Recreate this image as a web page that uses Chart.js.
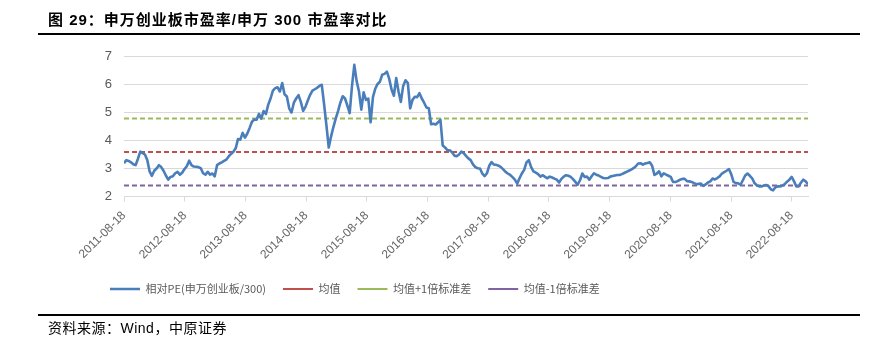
<!DOCTYPE html>
<html>
<head>
<meta charset="utf-8">
<script src="https://cdn.jsdelivr.net/npm/chart.js@4.4.1/dist/chart.umd.min.js"></script>
<style>
  html, body { margin: 0; padding: 0; background: #fff; }
  #wrap { position: relative; width: 894px; height: 342px; overflow: hidden; }
  #c { position: absolute; left: 0; top: 0; }
  .title {
    position: absolute; left: 48px; top: 11px; white-space: nowrap;
    font: bold 15px/18px "Liberation Sans", "Noto Sans CJK SC", sans-serif;
    letter-spacing: 1px; color: #000;
  }
  .rule { position: absolute; left: 38px; width: 822px; background: #000; }
  .source {
    position: absolute; left: 48px; top: 320px; white-space: nowrap;
    font: 14px/16px "Liberation Sans", "Noto Sans CJK SC", sans-serif;
    letter-spacing: 0.5px; color: #000;
  }
</style>
</head>
<body>
<div id="wrap">
  <canvas id="c" width="894" height="342"></canvas>
  <div class="title">图 29：申万创业板市盈率/申万 300 市盈率对比</div>
  <div class="rule" style="top:33px;height:2px;"></div>
  <div class="rule" style="top:313.5px;height:2.5px;"></div>
  <div class="source">资料来源：Wind，中原证券</div>
</div>
<script>
// Relative PE of the ChiNext index vs. the SW 300 index, one reading every two weeks
const startDate = '2011-08-18';
const stepDays = 14;
const values = [
  3.19, 3.30, 3.27, 3.22, 3.15, 3.12, 3.35, 3.60, 3.55, 3.50,
  3.30, 2.90, 2.74, 2.92, 3.00, 3.12, 3.05, 2.92, 2.75, 2.60,
  2.70, 2.72, 2.83, 2.88, 2.78, 2.85, 2.98, 3.08, 3.28, 3.12,
  3.07, 3.06, 3.05, 3.01, 2.83, 2.78, 2.88, 2.78, 2.82, 2.72,
  3.12, 3.18, 3.22, 3.27, 3.32, 3.43, 3.52, 3.60, 3.72, 4.05,
  4.03, 4.27, 4.10, 4.25, 4.45, 4.67, 4.75, 4.74, 4.95, 4.78,
  5.05, 4.95, 5.28, 5.50, 5.78, 5.87, 5.90, 5.75, 6.05, 5.65,
  5.57, 5.15, 5.00, 5.35, 5.50, 5.62, 5.38, 5.06, 5.20, 5.43,
  5.63, 5.78, 5.83, 5.88, 5.95, 5.99, 5.30, 4.55, 3.75, 4.14,
  4.48, 4.78, 5.05, 5.35, 5.58, 5.50, 5.25, 4.98, 5.95, 6.70,
  6.12, 5.75, 5.10, 5.72, 5.45, 5.50, 4.65, 5.55, 5.85, 6.02,
  6.10, 6.35, 6.38, 6.46, 6.20, 5.82, 5.60, 6.23, 5.75, 5.38,
  5.95, 6.15, 6.05, 5.15, 5.45, 5.56, 5.55, 5.69, 5.50, 5.35,
  5.18, 5.15, 4.58, 4.60, 4.57, 4.65, 4.74, 3.82, 3.75, 3.66,
  3.65, 3.58, 3.46, 3.44, 3.50, 3.60, 3.55, 3.45, 3.36, 3.30,
  3.15, 3.05, 3.01, 3.00, 2.82, 2.73, 2.83, 3.10, 3.23, 3.14,
  3.13, 3.10, 3.05, 2.97, 2.88, 2.82, 2.77, 2.69, 2.60, 2.46,
  2.65, 2.82, 2.95, 3.22, 3.30, 3.05, 2.90, 2.85, 2.80, 2.71,
  2.76, 2.70, 2.65, 2.71, 2.68, 2.64, 2.60, 2.50, 2.63, 2.71,
  2.76, 2.74, 2.70, 2.62, 2.52, 2.42, 2.58, 2.82, 2.70, 2.71,
  2.60, 2.72, 2.83, 2.78, 2.75, 2.70, 2.66, 2.65, 2.66, 2.71,
  2.73, 2.75, 2.77, 2.77, 2.80, 2.84, 2.88, 2.92, 2.96, 3.01,
  3.08, 3.18, 3.19, 3.14, 3.18, 3.20, 3.22, 3.10, 2.77, 2.82,
  2.90, 2.72, 2.83, 2.78, 2.74, 2.70, 2.52, 2.52, 2.55, 2.60,
  2.63, 2.63, 2.55, 2.54, 2.52, 2.48, 2.44, 2.45, 2.46, 2.38,
  2.43, 2.50, 2.54, 2.64, 2.61, 2.66, 2.72, 2.82, 2.87, 2.92,
  2.98, 2.80, 2.52, 2.48, 2.47, 2.42, 2.58, 2.75, 2.82, 2.74,
  2.65, 2.48, 2.40, 2.36, 2.36, 2.39, 2.41, 2.37, 2.26, 2.22,
  2.33, 2.36, 2.36, 2.39, 2.44, 2.53, 2.60, 2.70, 2.54, 2.36,
  2.36, 2.50, 2.60, 2.54, 2.44
];
const tickLabels = [
  '2011-08-18', '2012-08-18', '2013-08-18', '2014-08-18', '2015-08-18', '2016-08-18',
  '2017-08-18', '2018-08-18', '2019-08-18', '2020-08-18', '2021-08-18', '2022-08-18'
];
const seriesNames = ['相对PE(申万创业板/300)', '均值', '均值+1倍标准差', '均值-1倍标准差'];
const meanValue = 3.59;
const stdValue = 1.20;

// Dates are placed on a day-count axis so the yearly ticks fall on their real dates
const DAY = 86400000;
const t0 = Date.parse(startDate + 'T00:00:00Z');
const dayOf = s => Math.round((Date.parse(s + 'T00:00:00Z') - t0) / DAY);
const dates = values.map((_, i) => new Date(t0 + i * stepDays * DAY).toISOString().slice(0, 10));
const pePoints = values.map((v, i) => ({ x: dayOf(dates[i]), y: v }));
const lastDay = pePoints[pePoints.length - 1].x;
const flat = v => [{ x: 0, y: v }, { x: lastDay, y: v }];
const tickDays = tickLabels.map(dayOf);

const axisFont = { family: '"Liberation Sans", Arial, sans-serif', size: 12 };

new Chart(document.getElementById('c'), {
  type: 'line',
  data: {
    datasets: [
      { label: seriesNames[0], data: pePoints, borderColor: '#4a7ebb', borderWidth: 2.6,
        pointRadius: 0, tension: 0, borderJoinStyle: 'round' },
      { label: seriesNames[1], data: flat(meanValue), borderColor: '#c0504d', borderWidth: 2,
        borderDash: [5, 3], pointRadius: 0 },
      { label: seriesNames[2], data: flat(meanValue + stdValue), borderColor: '#9bbb59', borderWidth: 2,
        borderDash: [5, 3], pointRadius: 0 },
      { label: seriesNames[3], data: flat(meanValue - stdValue), borderColor: '#8064a2', borderWidth: 2,
        borderDash: [5, 3], pointRadius: 0 }
    ]
  },
  options: {
    responsive: false,
    animation: false,
    events: [],
    layout: { padding: { left: 93, right: 86, top: 56.5, bottom: 37.5 } },
    scales: {
      x: {
        type: 'linear', min: 0, max: lastDay,
        afterBuildTicks: s => { s.ticks = tickDays.map(v => ({ value: v })); },
        afterFit: s => { s.height = 70; },
        ticks: { autoSkip: false, minRotation: 45, maxRotation: 45, padding: 7,
                 color: '#666666', font: axisFont, callback: (v, i) => tickLabels[i] },
        grid: { drawOnChartArea: false, drawTicks: true, tickLength: 5, color: '#d9d9d9' },
        border: { display: true, color: '#d9d9d9' }
      },
      y: {
        min: 2, max: 7,
        afterFit: s => { s.width = 31; },
        ticks: { stepSize: 1, padding: 12, color: '#595959', font: { ...axisFont, size: 13 } },
        grid: { color: '#d9d9d9', drawTicks: false },
        border: { display: false }
      }
    },
    plugins: {
      legend: {
        position: 'bottom', align: 'start',
        labels: { usePointStyle: true, pointStyle: 'line', pointStyleWidth: 30, padding: 17,
                  color: '#595959', font: { family: '"Noto Sans CJK SC", sans-serif', size: 11 } }
      },
      tooltip: { enabled: false }
    }
  }
});
</script>
</body>
</html>
